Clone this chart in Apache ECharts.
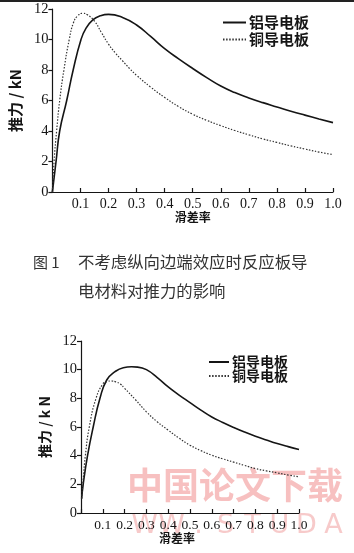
<!DOCTYPE html>
<html><head><meta charset="utf-8">
<script src="https://cdn.jsdelivr.net/npm/echarts@6/dist/echarts.min.js"></script>
<style>html,body{margin:0;padding:0;background:#fff}#c{width:354px;height:553px}</style>
</head><body><div id="c"></div>
<script>
// ---- data ----
const seriesNames = ['铝导电板', '铜导电板'];
// Figure (top): without longitudinal end effect
const topAl = [[0,0],[0.013,2],[0.026,4],[0.051,6],[0.074,8],[0.102,10],[0.12,10.75],[0.145,11.3],[0.17,11.55],[0.2,11.65],[0.25,11.45],[0.3,10.95],[0.35,10.2],[0.4,9.4],[0.45,8.73],[0.5,8.1],[0.55,7.5],[0.6,6.95],[0.65,6.52],[0.7,6.17],[0.75,5.86],[0.8,5.58],[0.85,5.3],[0.9,5.04],[0.95,4.79],[1.0,4.55]];
const topCu = [[0,0],[0.006,2],[0.015,4],[0.026,6],[0.041,8],[0.06,10],[0.075,11.1],[0.09,11.55],[0.108,11.72],[0.125,11.62],[0.15,11.2],[0.175,10.45],[0.2,9.7],[0.225,9.1],[0.25,8.6],[0.275,8.1],[0.3,7.65],[0.35,6.88],[0.4,6.2],[0.45,5.6],[0.5,5.1],[0.55,4.7],[0.6,4.35],[0.65,4.03],[0.7,3.75],[0.75,3.48],[0.8,3.25],[0.85,3.02],[0.9,2.82],[0.95,2.62],[1.0,2.45]];
// Figure (bottom)
const botAl = [[0.003,1.0],[0.01,2],[0.03,4],[0.056,6],[0.087,8],[0.118,9.28],[0.156,9.86],[0.194,10.14],[0.232,10.2],[0.26,10.18],[0.3,10.0],[0.35,9.45],[0.4,8.8],[0.45,8.23],[0.5,7.7],[0.55,7.18],[0.6,6.7],[0.65,6.32],[0.7,5.97],[0.75,5.65],[0.8,5.36],[0.85,5.1],[0.9,4.85],[0.95,4.63],[1.0,4.43]];
const botCu = [[0.003,1.0],[0.01,2.3],[0.02,4],[0.038,6],[0.069,8],[0.1,9.0],[0.12,9.17],[0.14,9.21],[0.16,9.15],[0.18,9.0],[0.2,8.7],[0.25,7.9],[0.3,7.06],[0.35,6.36],[0.4,5.78],[0.45,5.22],[0.5,4.73],[0.55,4.35],[0.6,4.03],[0.65,3.78],[0.7,3.55],[0.75,3.32],[0.8,3.1],[0.85,2.94],[0.9,2.8],[0.95,2.65],[1.0,2.52]];
const xName = '滑差率';
const yNames = ['推力 / kN', '推力 / k N'];
const caption = ['图 1', '不考虑纵向边端效应时反应板导', '电材料对推力的影响'];
const watermark = ['中国论文下载', 'WW.STUDA.'];

// ---- chart ----
const ink = '#151515';
const serif = 'Liberation Serif';
const cjk = 'Noto Sans CJK SC';

function xAxisCfg(grid, fs, nameGap, namePad) {
  return {
    type: 'value', gridIndex: grid, min: 0, max: 1, interval: 0.1,
    axisLine: {show: true, lineStyle: {color: ink, width: 1.2}},
    axisTick: {show: true, inside: true, length: 4, lineStyle: {color: ink, width: 1.2}},
    axisLabel: {formatter: v => v === 0 ? '' : v.toFixed(1), fontFamily: serif, fontSize: fs, color: ink, margin: 5},
    splitLine: {show: false},
    name: xName, nameLocation: 'middle', nameGap: nameGap,
    nameTextStyle: {fontFamily: cjk, fontWeight: 'bold', fontSize: 12, color: ink, padding: namePad}
  };
}
function yAxisCfg(grid, name, nameGap, nfs) {
  return {
    type: 'value', gridIndex: grid, min: 0, max: 12, interval: 2,
    axisLine: {show: true, lineStyle: {color: ink, width: 1.2}},
    axisTick: {show: true, inside: false, length: 4, lineStyle: {color: ink, width: 1.2}},
    axisLabel: {fontFamily: serif, fontSize: 14.5, color: ink, margin: 4},
    splitLine: {show: false},
    name: name, nameLocation: 'middle', nameGap: nameGap, nameRotate: 90,
    nameTextStyle: {fontFamily: cjk, fontWeight: 'bold', fontSize: nfs, color: ink}
  };
}
function lineSeries(name, xi, data, dotted) {
  return {
    type: 'line', name: name, xAxisIndex: xi, yAxisIndex: xi, data: data,
    smooth: 0.5, symbol: 'none', z: 5,
    color: dotted ? '#333' : ink,
    lineStyle: dotted ? {color: '#333', width: 1.2, type: [1.5, 1.6]} : {color: ink, width: 1.6, type: 'solid'}
  };
}
function legendCfg(left, top, iw, fs, gap) {
  return {
    orient: 'vertical', left: left, top: top, padding: 0, itemGap: gap,
    itemWidth: iw, itemHeight: 10, selectedMode: false, data: seriesNames,
    itemStyle: {opacity: 0},
    textStyle: {fontFamily: cjk, fontWeight: 'bold', fontSize: fs, lineHeight: fs, color: ink, padding: [0, 0, 0, -2]}
  };
}

const chart = echarts.init(document.getElementById('c'), null, {renderer: 'canvas'});
const wmRow = watermark[1].split('').map(ch => '{c|' + ch + '}').join('');
chart.setOption({
  animation: false,
  backgroundColor: '#fff',
  grid: [
    {left: 43, top: 9, width: 290, height: 183},
    {left: 81, top: 341, width: 218, height: 172}
  ],
  xAxis: [xAxisCfg(0, 14, 19, [0, 0, 0, 0]), xAxisCfg(1, 13.5, 18, [0, 26, 0, 0])],
  yAxis: [yAxisCfg(0, yNames[0], 26, 15), yAxisCfg(1, yNames[1], 28, 14)],
  legend: [legendCfg(222, 15, 23, 15, 2), legendCfg(208, 355, 20, 14, 0)],
  series: [
    lineSeries(seriesNames[0], 0, topAl, false),
    lineSeries(seriesNames[1], 0, topCu, true),
    lineSeries(seriesNames[0], 1, botAl, false),
    lineSeries(seriesNames[1], 1, botCu, true)
  ],
  graphic: [
    {type: 'rect', z: 10, shape: {x: 0, y: 0, width: 354, height: 2}, style: {fill: '#222'}},
    {type: 'text', z: 10, left: 33, top: 255, style: {text: caption[0], font: '15px "Noto Sans CJK SC"', fill: '#333'}},
    {type: 'text', z: 10, left: 78, top: 254, style: {text: caption[1], font: '16.4px "Noto Sans CJK SC"', fill: '#333'}},
    {type: 'text', z: 10, left: 78, top: 283, style: {text: caption[2], font: '16.4px "Noto Sans CJK SC"', fill: '#333'}},
    {type: 'text', z: -1, left: 127, top: 467, style: {text: watermark[0], font: 'bold 36px "Noto Sans CJK SC"', fill: 'rgba(240,140,140,0.55)'}},
    {type: 'text', z: -1, left: 131, top: 512, style: {text: wmRow, fill: 'rgba(240,150,150,0.5)', rich: {c: {width: 27, align: 'center', fontFamily: 'DejaVu Sans', fontSize: 27, lineHeight: 30, fill: 'rgba(240,150,150,0.5)'}}}}
  ]
});
</script>
</body></html>
